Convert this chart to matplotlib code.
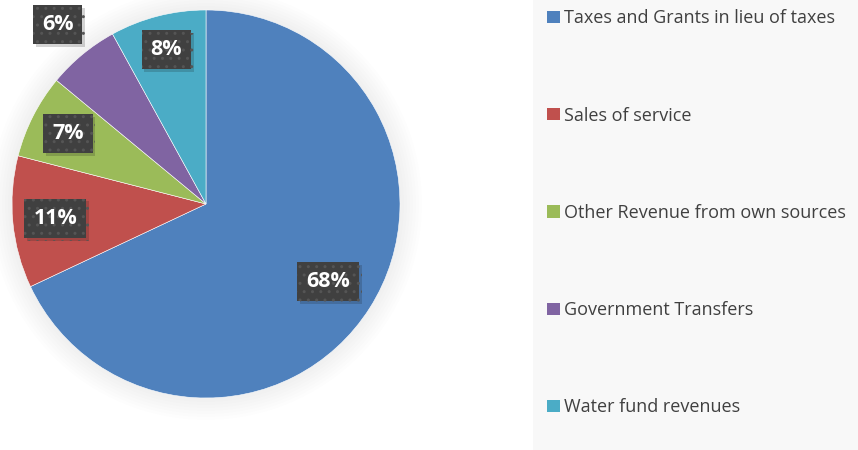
import numpy as np
import matplotlib
matplotlib.use('Agg')
import matplotlib.pyplot as plt
from matplotlib.patches import Rectangle
import matplotlib.patheffects as pe

categories = ['Taxes and Grants in lieu of taxes', 'Sales of service',
              'Other Revenue from own sources', 'Government Transfers',
              'Water fund revenues']
shares = [68, 11, 7, 6, 8]
colors = ['#4f81bd', '#c0504d', '#9bbb59', '#8064a2', '#4bacc6']
label_dist = [0.745, 0.78, 0.80, 1.2, 0.82]

W, H = 858, 450
fig = plt.figure(figsize=(W / 100, H / 100), dpi=100)
fig.patch.set_facecolor('white')

# legend panel on the right
fig.patches.append(Rectangle((533 / W, 0), 1 - 533 / W, 1, transform=fig.transFigure,
                             facecolor='#f8f8f8', edgecolor='none', zorder=0))

ax = fig.add_axes([0, 0, 1, 1])
ax.set_xlim(0, W)
ax.set_ylim(0, H)
ax.axis('off')

cx, cy, r = 206, H - 204, 194

# faint soft shadow around the pie
for k in range(8):
    ax.add_patch(plt.Circle((cx, cy), r + 1 + k * 3, color='black',
                            alpha=0.006, lw=0, zorder=0))

wedges, _ = ax.pie(shares, colors=colors, startangle=90, counterclock=False,
                   center=(cx, cy), radius=r, frame=True,
                   wedgeprops=dict(edgecolor='white', linewidth=0.4))
ax.set_xlim(0, W)
ax.set_ylim(0, H)
ax.axis('off')

total = sum(shares)
start = 90.0
for val, d in zip(shares, label_dist):
    span = val / total * 360
    mid = np.deg2rad(start - span / 2)
    start -= span
    t = ax.text(cx + d * r * np.cos(mid), cy + d * r * np.sin(mid), f'{val}%',
                ha='center', va='center', color='white', fontsize=15.5,
                fontweight='bold', family=['Open Sans', 'DejaVu Sans'],
                bbox=dict(boxstyle='square,pad=0.42', facecolor='#404040',
                          edgecolor='#555555', linewidth=0, hatch='..'),
                zorder=5)
    t.get_bbox_patch().set_path_effects([pe.SimplePatchShadow(offset=(2, -2), alpha=0.18),
                                         pe.Normal()])

leg = fig.legend(wedges, categories, loc='upper left', bbox_to_anchor=(531 / W, 1 + 7 / H),
                 frameon=False, labelspacing=4.39,
                 handlelength=0.68, handleheight=0.68, handletextpad=0.22,
                 prop=dict(family=['Open Sans', 'DejaVu Sans'], size=13.0))
for txt in leg.get_texts():
    txt.set_color('#404040')
for h in leg.legend_handles:
    h.set_edgecolor('none')

fig.savefig('out.png', dpi=100)
